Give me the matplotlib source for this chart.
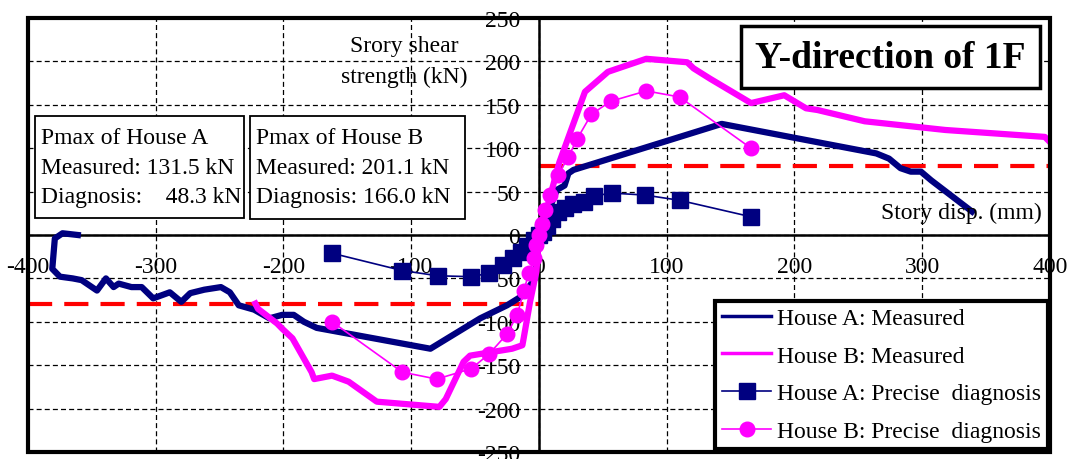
import numpy as np
import matplotlib
matplotlib.use('Agg')
import matplotlib.pyplot as plt
from matplotlib.patches import Rectangle

plt.rcParams['font.family'] = ['Liberation Serif', 'DejaVu Serif']

# House A measured (navy, thick)
a_meas_x = [-361, -373, -379, -381, -375, -365, -358, -346, -339, -333, -329, -319, -311, -302,
            -289, -280, -273, -262, -249, -242, -235, -223, -211, -201, -192, -184, -174, -85,
            -46, -25, -13, -3, 0, 14, 20, 23, 27, 143, 264, 274, 283, 291, 299, 307, 339]
a_meas_y = [0, 2, -4, -39, -48, -50, -52, -64, -50, -60, -56, -60, -60, -73,
            -66, -77, -67, -63, -60, -66, -81, -86, -96, -92, -92, -100, -107, -131,
            -96, -81, -70, -50, 0, 52, 57, 71, 75, 128, 94, 88, 77, 73, 73, 63, 27]

# House B measured (magenta, thick)
b_meas_x = [-222, -220, -205, -201, -193, -178, -176, -162, -149, -127, -78, -73, -59, -54,
            -21, -13, -12, -7, -2, 0, 3, 9, 16, 36, 54, 84, 116, 121, 134, 166, 192, 209,
            218, 255, 318, 396, 400]
b_meas_y = [-79, -85, -102, -108, -119, -158, -166, -162, -169, -192, -198, -189, -146, -139,
            -131, -127, -119, -77, -42, 0, 11, 46, 84, 165, 188, 203, 199, 192, 180, 152, 161, 146,
            144, 131, 121, 113, 107]

# House A precise diagnosis (navy squares)
a_diag_x = [-162, -107, -79, -53, -39, -28, -20, -14, -9, -4, 0, 3, 6, 10, 15, 20, 27, 35, 43, 57, 83, 110, 166]
a_diag_y = [-21, -41, -47, -48, -44, -35, -27, -20, -13, -6, 0, 4, 10, 18, 26, 31, 36, 38, 45, 48.3, 46, 40, 21]

# House B precise diagnosis (magenta circles)
b_diag_x = [-162, -107, -80, -53, -39, -25, -17, -12, -8, -4, -2, 0, 2, 5, 9, 15, 23, 30, 41, 56, 84, 110, 166]
b_diag_y = [-100, -158, -166, -154, -137, -114, -92, -65, -44, -27, -12, 0, 13, 29, 46, 69, 90, 111, 139, 154, 166, 159, 100]

# red dashed levels
red_pos_x = [0, 400]
red_pos_y = [80, 80]
red_neg_x = [-400, 0]
red_neg_y = [-80, -80]

xticks = list(range(-400, 401, 100))
yticks = list(range(-250, 251, 50))

navy = '#000080'
mag = '#FF00FF'
fs = 17

fig = plt.figure(figsize=(10.69, 4.60), dpi=100)
ax = fig.add_axes([0.0262, 0.0152, 0.9560, 0.9435])

ax.plot(red_pos_x, red_pos_y, color='red', lw=3, dashes=(5.8, 2.9), zorder=2)
ax.plot(red_neg_x, red_neg_y, color='red', lw=3, dashes=(5.8, 2.9), zorder=2)

l1, = ax.plot(a_meas_x, a_meas_y, color=navy, lw=4.5, solid_joinstyle='round', label='House A: Measured', zorder=3)
l2, = ax.plot(b_meas_x, b_meas_y, color=mag, lw=4.5, solid_joinstyle='round', label='House B: Measured', zorder=3)
l3, = ax.plot(a_diag_x, a_diag_y, color=navy, lw=1.2, marker='s', ms=11, mec=navy, mfc=navy,
              label='House A: Precise  diagnosis', zorder=4)
l4, = ax.plot(b_diag_x, b_diag_y, color=mag, lw=1.2, marker='o', ms=10.5, mec=mag, mfc=mag,
              label='House B: Precise  diagnosis', zorder=4)

ax.spines['left'].set_position(('data', 0))
ax.spines['bottom'].set_position(('data', 0))
ax.spines['left'].set_linewidth(1.8)
ax.spines['bottom'].set_linewidth(1.8)
ax.spines['top'].set_visible(False)
ax.spines['right'].set_visible(False)

ax.set_xlim(-400, 400)
ax.set_ylim(-250, 250)
ax.set_xticks(xticks)
ax.set_yticks(yticks)
ax.set_xticklabels([str(v) for v in xticks])
ax.set_yticklabels([str(v) for v in yticks])
ax.grid(True, color='black', lw=0.9, ls=(0, (4, 2.5)), zorder=0)
ax.set_axisbelow(True)
ax.tick_params(axis='y', length=0, pad=13.5, labelsize=fs)
ax.tick_params(axis='x', length=0, pad=15, labelsize=fs)

ax.add_patch(Rectangle((0, 0), 1, 1, transform=ax.transAxes, fill=False, lw=3, ec='black',
                       clip_on=False, zorder=10))

# Pmax boxes
ax.add_patch(Rectangle((0.00685, 0.5392), 0.2045, 0.235, transform=ax.transAxes, fc='white',
                       ec='black', lw=1.3, zorder=6))
ax.add_patch(Rectangle((0.2168, 0.5369), 0.2108, 0.2373, transform=ax.transAxes, fc='white',
                       ec='black', lw=1.3, zorder=6))
box_a = ['Pmax of House A', 'Measured: 131.5 kN', 'Diagnosis:    48.3 kN']
box_b = ['Pmax of House B', 'Measured: 201.1 kN', 'Diagnosis: 166.0 kN']
rows_y = [0.7258, 0.6544, 0.5876]
for s, yy in zip(box_a, rows_y):
    ax.text(0.0132, yy, s, transform=ax.transAxes, fontsize=fs, va='center', ha='left', zorder=7)
for s, yy in zip(box_b, rows_y):
    ax.text(0.2231, yy, s, transform=ax.transAxes, fontsize=fs, va='center', ha='left', zorder=7)

# title box
ax.add_patch(Rectangle((0.6977, 0.8387), 0.2926, 0.1429, transform=ax.transAxes, fc='white',
                       ec='black', lw=2.5, zorder=6))
ax.text(0.8440, 0.9101, 'Y-direction of 1F', transform=ax.transAxes, fontsize=27,
        fontweight='bold', ha='center', va='center', zorder=7)

ax.text(0.3679, 0.9355, 'Srory shear', transform=ax.transAxes, fontsize=fs, ha='center', va='center', zorder=7)
ax.text(0.3679, 0.8664, 'strength (kN)', transform=ax.transAxes, fontsize=fs, ha='center', va='center', zorder=7)
ax.text(0.9922, 0.553, 'Story disp. (mm)', transform=ax.transAxes, fontsize=fs, ha='right', va='center', zorder=7)

leg = ax.legend(handles=[l1, l2, l3, l4], loc='lower right', bbox_to_anchor=(0.9985, 0.007),
                borderaxespad=0, fontsize=fs, frameon=True, fancybox=False, framealpha=1,
                edgecolor='black', handlelength=2.1, handletextpad=0.25, labelspacing=0.68,
                borderpad=0.3)
leg.get_frame().set_linewidth(3)
leg.set_zorder(8)
for ln in leg.get_lines()[:2]:
    ln.set_linewidth(2.5)

fig.savefig('out.png', dpi=100)
